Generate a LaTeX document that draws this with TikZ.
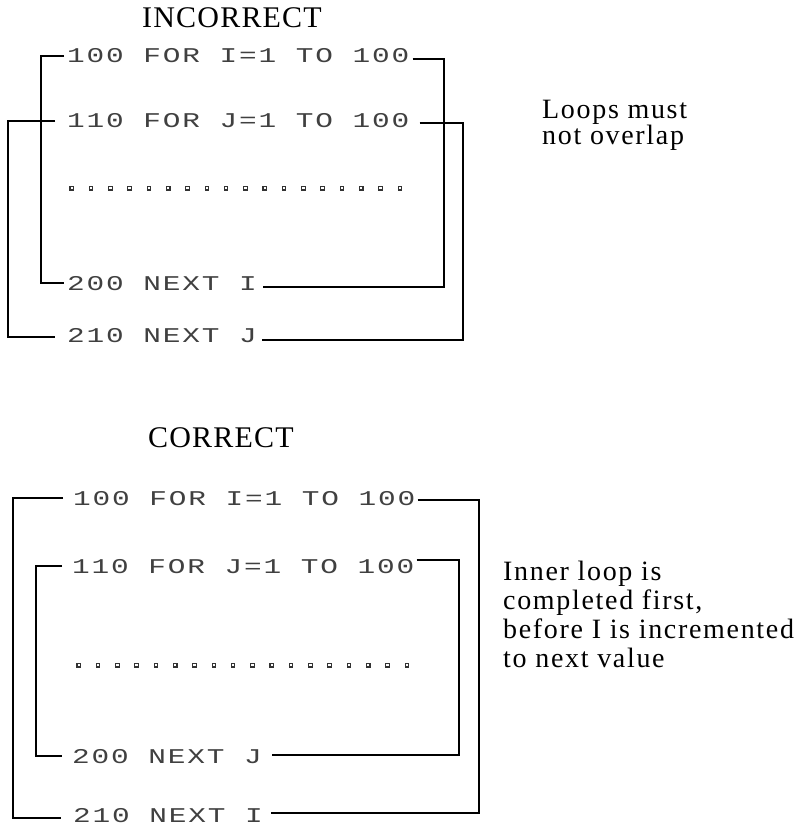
\documentclass[tikz,border=0pt]{standalone}
\usepackage{fontspec}
\setmainfont{Liberation Serif}
% printer-style listing font and spaced serif captions
\newfontfamily\dotmatrix[FakeStretch=1.4,LetterSpace=9]{Liberation Mono}
\newfontfamily\headfont[LetterSpace=4]{Liberation Serif}
\newfontfamily\notefont[LetterSpace=6]{Liberation Serif}

\tikzset{
  code/.style={anchor=base west, inner sep=0pt,
    font=\dotmatrix\fontsize{21}{21}\selectfont, text=black!75},
  heading/.style={anchor=base west, inner sep=0pt,
    font=\headfont\fontsize{30}{30}\selectfont},
  note/.style={anchor=base west, inner sep=0pt, align=left},
  bracket/.style={line width=1.8pt, line join=miter},
  dotsq/.style={draw=black!80, line width=1.1pt}
}

\begin{document}
\begin{tikzpicture}[x=1pt, y=-1pt]
\useasboundingbox (0,0) rectangle (804,834);

% ---------- overlapping loops ----------
\node[heading] (hI) at (142,28) {INCORRECT};
\node[code] (a1) at (67,63)  {100 FOR I=1 TO 100};
\node[code] (a2) at (67,128) {110 FOR J=1 TO 100};
\node[code] (a3) at (67,290) {200 NEXT I};
\node[code] (a4) at (67,342) {210 NEXT J};
\foreach \k in {0,...,17}
  \draw[dotsq] (70+19.3*\k,186.5) rectangle ++(3.5,3.5);
% the base anchor of a multi-line node sits on its last line
\node[note, font=\notefont\fontsize{28}{24}\selectfont] (n1) at (542,145)
  {Loops must\\not overlap};

\coordinate (aIL) at (41,0);
\coordinate (aIR) at (444,0);
\coordinate (aJL) at (8,0);
\coordinate (aJR) at (463,0);

% I loop
\draw[bracket] ([xshift=-3pt]a1.west) -- (a1.west -| aIL)
  -- (a3.west -| aIL) -- ([xshift=-3pt]a3.west);
\draw[bracket] ([xshift=3pt,yshift=-3pt]a1.east) -- ([yshift=-3pt]a1.east -| aIR)
  -- ([yshift=-4pt]a3.east -| aIR) -- ([xshift=6pt,yshift=-4pt]a3.east);
% J loop
\draw[bracket] ([xshift=-12pt]a2.west) -- (a2.west -| aJL)
  -- ([yshift=-2pt]a4.west -| aJL) -- ([xshift=-12pt,yshift=-2pt]a4.west);
\draw[bracket] ([xshift=10pt,yshift=-2pt]a2.east) -- ([yshift=-2pt]a2.east -| aJR)
  -- ([yshift=-5pt]a4.east -| aJR) -- ([xshift=5pt,yshift=-5pt]a4.east);

% ---------- nested loops ----------
\node[heading] (hC) at (148,447) {CORRECT};
\node[code] (b1) at (73,505) {100 FOR I=1 TO 100};
\node[code] (b2) at (72,573) {110 FOR J=1 TO 100};
\node[code] (b3) at (72,763) {200 NEXT J};
\node[code] (b4) at (73,822) {210 NEXT I};
\foreach \k in {0,...,17}
  \draw[dotsq] (77+19.3*\k,663.5) rectangle ++(3.5,3.5);
\node[note, font=\notefont\fontsize{28}{29}\selectfont] (n2) at (503,667)
  {Inner loop is\\completed first,\\before I is incremented\\to next value};

\coordinate (bIL) at (13,0);
\coordinate (bIR) at (479,0);
\coordinate (bJL) at (36,0);
\coordinate (bJR) at (459,0);

% I loop (outer)
\draw[bracket] ([xshift=-10pt]b1.west) -- (b1.west -| bIL)
  -- ([yshift=-3pt]b4.west -| bIL) -- ([xshift=-12pt,yshift=-3pt]b4.west);
\draw[bracket] ([xshift=2pt,yshift=-2pt]b1.east) -- ([yshift=-2pt]b1.east -| bIR)
  -- ([yshift=2pt]b4.east -| bIR) -- ([xshift=8pt,yshift=2pt]b4.east);
% J loop (inner)
\draw[bracket] ([xshift=-10pt]b2.west) -- (b2.west -| bJL)
  -- (b3.west -| bJL) -- ([xshift=-10pt]b3.west);
\draw[bracket] ([xshift=2pt,yshift=6pt]b2.east) -- ([yshift=6pt]b2.east -| bJR)
  -- ([yshift=1pt]b3.east -| bJR) -- ([xshift=10pt,yshift=1pt]b3.east);
\end{tikzpicture}
\end{document}
